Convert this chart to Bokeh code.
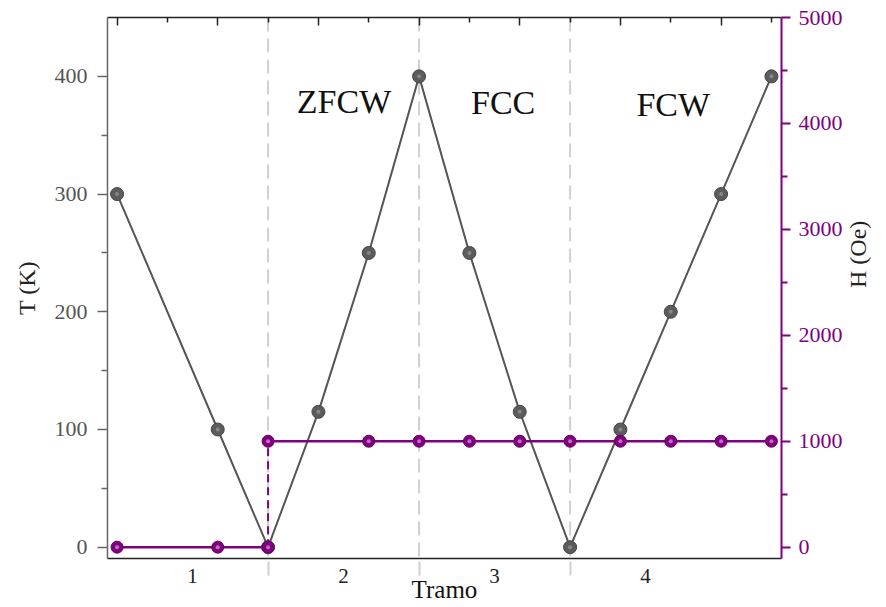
import math
from bokeh.plotting import figure
from bokeh.models import Range1d, LinearAxis, FixedTicker, Span
from bokeh.core.properties import value
from bokeh.embed import file_html
from bokeh.resources import INLINE

# ---- data ----
t_x = [0, 2, 3, 4, 5, 6, 7, 8, 9, 10, 11, 12, 13]
t_vals = [300, 100, 0, 115, 250, 400, 250, 115, 0, 100, 200, 300, 400]
h0_x = [0, 2, 3]
h0_vals = [0, 0, 0]
h1_x = [3, 5, 6, 7, 8, 9, 10, 11, 12, 13]
h1_vals = [1000, 1000, 1000, 1000, 1000, 1000, 1000, 1000, 1000, 1000]
step_x = [3, 3]
step_vals = [0, 1000]
boundaries = [3, 6, 9]
tramo_ticks = [1.5, 4.5, 7.5, 10.5]
tramo_labels = ["1", "2", "3", "4"]
phase_labels = ["ZFCW", "FCC", "FCW"]
phase_x = [4.51, 7.67, 11.05]
phase_y = [379, 378, 376]

FONT = "Liberation Serif"
PURPLE = "#800080"
GRAY = "#555555"

p = figure(width=886, height=607, output_backend="svg", toolbar_location=None,
           x_range=Range1d(-0.19, 13.2), y_range=Range1d(-9.6, 450),
           min_border_left=107, min_border_right=101, min_border_top=17, min_border_bottom=49)
p.extra_y_ranges = {"H": Range1d(-107, 5000)}
p.xgrid.visible = False
p.ygrid.visible = False
p.outline_line_color = None
p.background_fill_color = "white"
p.border_fill_color = "white"

# boundary dashed lines
for b in boundaries:
    p.add_layout(Span(location=b, dimension="height", line_color="#d0d0d0",
                      line_width=2, line_dash="14 7", level="underlay"))

# T series
p.line(t_x, t_vals, line_color=GRAY, line_width=2)
p.scatter(t_x, t_vals, size=13, fill_color="#5c5c5c", line_color="#444444", line_width=1)
p.scatter(t_x, t_vals, size=4, fill_color="#9a9a9a", line_color=None, fill_alpha=0.7)

# H series
p.line(h0_x, h0_vals, line_color=PURPLE, line_width=2.5, y_range_name="H")
p.line(step_x, step_vals, line_color=PURPLE, line_width=2, line_dash="8 5", y_range_name="H")
p.line(h1_x, h1_vals, line_color=PURPLE, line_width=2.5, y_range_name="H")
for xs, ys in ((h0_x, h0_vals), (h1_x, h1_vals)):
    p.scatter(xs, ys, size=12, fill_color=PURPLE, line_color="#660066", y_range_name="H")
    p.scatter(xs, ys, size=4, fill_color="#c890c8", line_color=None, fill_alpha=0.8, y_range_name="H")

# phase labels
p.text(phase_x, phase_y, text=phase_labels, text_font=value(FONT), text_font_size="34px",
       text_align="center", text_baseline="alphabetic", text_color="#111111")

# bottom axis
xa = p.xaxis[0]
xa.ticker = FixedTicker(ticks=tramo_ticks, minor_ticks=boundaries)
xa.major_label_overrides = {t: l for t, l in zip(tramo_ticks, tramo_labels)}
xa.major_tick_out = 0
xa.major_tick_in = 0
xa.minor_tick_in = 0
xa.minor_tick_out = 17
xa.minor_tick_line_color = "#d0d0d0"
xa.minor_tick_line_width = 2
xa.minor_tick_line_dash = "14 7"
xa.axis_line_color = "#222222"
xa.axis_line_width = 1.5
xa.major_label_standoff = -7
xa.major_label_text_font = FONT
xa.major_label_text_font_size = "21px"
xa.major_label_text_color = "#222222"
xa.axis_label = "Tramo"
xa.axis_label_text_font = FONT
xa.axis_label_text_font_size = "25px"
xa.axis_label_text_font_style = "normal"
xa.axis_label_text_color = "#111111"
xa.axis_label_standoff = -10

# left axis
ya = p.yaxis[0]
ya.ticker = FixedTicker(ticks=[0, 100, 200, 300, 400], minor_ticks=[50, 150, 250, 350])
ya.major_tick_out = 10
ya.major_tick_in = 0
ya.minor_tick_out = 6
ya.minor_tick_in = 0
ya.axis_line_color = "#666666"
ya.axis_line_width = 1.5
ya.major_tick_line_color = "#666666"
ya.major_tick_line_width = 1.5
ya.minor_tick_line_color = "#666666"
ya.minor_tick_line_width = 1.5
ya.major_label_standoff = 10
ya.major_label_text_font = FONT
ya.major_label_text_font_size = "22px"
ya.major_label_text_color = GRAY
ya.axis_label = "T (K)"
ya.axis_label_text_font = FONT
ya.axis_label_text_font_size = "24px"
ya.axis_label_text_font_style = "normal"
ya.axis_label_text_color = "#222222"
ya.axis_label_standoff = 12

# right axis
ra = LinearAxis(y_range_name="H",
                ticker=FixedTicker(ticks=[0, 1000, 2000, 3000, 4000, 5000],
                                   minor_ticks=[500, 1500, 2500, 3500, 4500]))
ra.major_tick_out = 9
ra.major_tick_in = 0
ra.minor_tick_out = 6
ra.minor_tick_in = 0
ra.axis_line_color = PURPLE
ra.axis_line_width = 2
ra.major_tick_line_color = PURPLE
ra.major_tick_line_width = 2
ra.minor_tick_line_color = PURPLE
ra.minor_tick_line_width = 2
ra.major_label_standoff = 8
ra.major_label_text_font = FONT
ra.major_label_text_font_size = "22px"
ra.major_label_text_color = PURPLE
ra.axis_label = "H (Oe)"
ra.axis_label_text_font = FONT
ra.axis_label_text_font_size = "24px"
ra.axis_label_text_font_style = "normal"
ra.axis_label_text_color = "#222222"
ra.axis_label_standoff = 12
ra.axis_label_orientation = math.pi / 2
p.add_layout(ra, "right")

# top axis (ticks only)
top_major = [0, 2, 4, 6, 8, 10, 12]
ta = LinearAxis(ticker=FixedTicker(ticks=top_major,
                                   minor_ticks=[1, 3, 5, 7, 9, 11, 13]))
ta.major_tick_in = 8
ta.major_tick_out = 0
ta.minor_tick_in = 5
ta.minor_tick_out = 0
ta.major_tick_line_width = 1.5
ta.minor_tick_line_width = 1.5
ta.axis_line_width = 1.5
ta.axis_line_color = "#222222"
ta.major_tick_line_color = "#222222"
ta.minor_tick_line_color = "#222222"
ta.major_label_overrides = {t: "" for t in top_major}
ta.major_label_standoff = 0
p.add_layout(ta, "above")

open("out.html", "w").write(file_html(p, INLINE))
